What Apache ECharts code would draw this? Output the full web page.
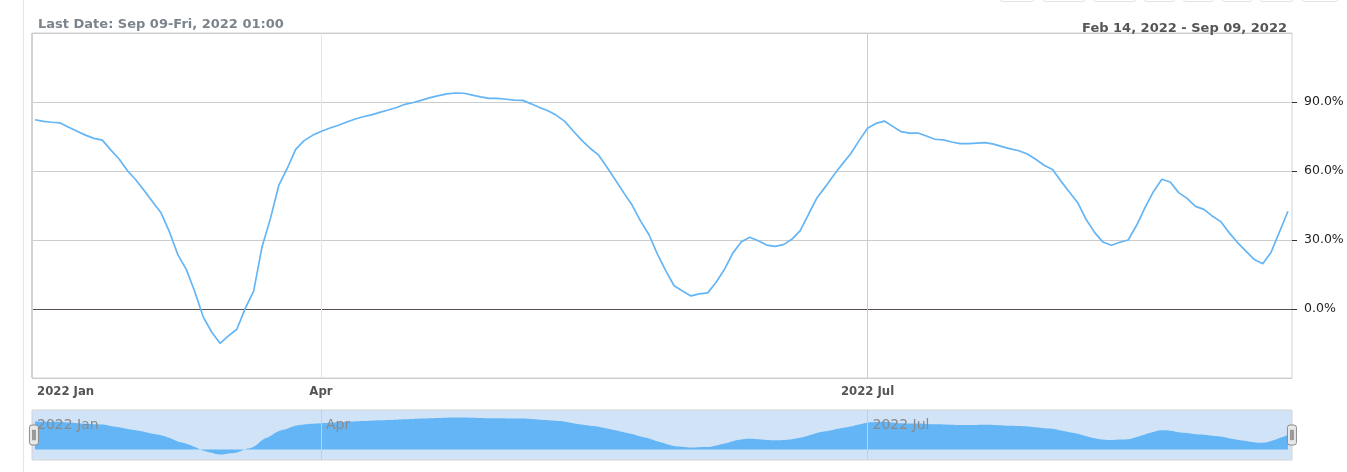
<!DOCTYPE html>
<html><head><meta charset="utf-8">
<script src="https://cdn.jsdelivr.net/npm/echarts@6/dist/echarts.min.js"></script>
<style>html,body{margin:0;padding:0;background:#fff}#c{width:1347px;height:472px}</style>
</head><body><div id="c"></div>
<script>
// Business days (Mon-Fri), Feb 14 2022 .. Sep 09 2022
const categories = [];
(function () {
  const d = new Date(Date.UTC(2022, 1, 14));
  const end = new Date(Date.UTC(2022, 8, 9));
  const M = ['Jan','Feb','Mar','Apr','May','Jun','Jul','Aug','Sep','Oct','Nov','Dec'];
  while (d <= end) {
    const w = d.getUTCDay();
    if (w !== 0 && w !== 6) categories.push(M[d.getUTCMonth()] + ' ' + String(d.getUTCDate()).padStart(2, '0') + ', 2022');
    d.setUTCDate(d.getUTCDate() + 1);
  }
})();

const values = [
  82.3, 81.6, 81.2, 80.9, 79.0, 77.3, 75.6, 74.2, 73.4, 69.2,
  65.2, 60.1, 56.1, 51.4, 46.5, 41.7, 33.4, 23.5, 17.1, 7.5,
  -3.4, -10.0, -14.9, -11.7, -8.8, 0.3, 7.8, 27.1, 39.4, 53.9,
  61.2, 69.4, 73.2, 75.5, 77.2, 78.6, 79.8, 81.2, 82.5, 83.6,
  84.4, 85.5, 86.5, 87.6, 89.0, 89.8, 90.8, 91.9, 92.8, 93.5,
  93.9, 93.8, 93.0, 92.2, 91.6, 91.6, 91.2, 90.8, 90.7, 89.2,
  87.6, 86.2, 84.2, 81.6, 77.4, 73.4, 69.9, 67.0, 61.7, 56.2,
  50.6, 45.2, 38.3, 32.4, 24.0, 16.7, 10.1, 7.8, 5.7, 6.6,
  7.0, 11.6, 17.3, 24.4, 29.2, 31.2, 29.7, 27.8, 27.2, 28.0,
  30.3, 34.1, 41.3, 48.4, 53.2, 58.3, 63.0, 67.5, 73.2, 78.6,
  80.7, 81.7, 79.4, 77.1, 76.5, 76.5, 75.2, 73.8, 73.5, 72.6,
  71.9, 71.9, 72.1, 72.3, 71.7, 70.6, 69.6, 68.8, 67.4, 65.1,
  62.5, 60.7, 55.6, 50.9, 46.2, 38.9, 33.3, 29.1, 27.7, 29.0,
  30.0, 36.4, 44.1, 51.0, 56.4, 55.2, 50.6, 48.1, 44.6, 43.3,
  40.4, 38.0, 33.2, 28.9, 25.2, 21.5, 19.7, 24.7, 33.6, 42.5
];

const xMin = -0.36, xMax = 149.48;
const tickIndex = [xMin, 34, 99];        // first label sits at the axis start
const tickLabels = ['2022 Jan', 'Apr', '2022 Jul'];
const splitIndex = [34, 99];
const yTicks = { min: -30, max: 120, interval: 30 };

const seriesData = values.map((v, i) => [i, v]);
const labelIdx = v => {
  let best = 0;
  for (let k = 0; k < tickIndex.length; k++) if (Math.abs(tickIndex[k] - v) < Math.abs(tickIndex[best] - v)) best = k;
  return best;
};

const FONT = 'DejaVu Sans';
const chart = echarts.init(document.getElementById('c'), null, { renderer: 'canvas' });

const handlePath = 'path://M2.5,0 h4 a2.5,2.5 0 0 1 2.5,2.5 v15 a2.5,2.5 0 0 1 -2.5,2.5 h-4 a2.5,2.5 0 0 1 -2.5,-2.5 v-15 a2.5,2.5 0 0 1 2.5,-2.5 Z M3.2,5 h0.6 v10 h-0.6 Z M5.2,5 h0.6 v10 h-0.6 Z';

const btns = [[1000, 34], [1043, 42], [1093, 43], [1144, 31], [1183, 31], [1222, 30], [1260, 33], [1302, 36]];

chart.setOption({
  backgroundColor: '#fff',
  animation: false,
  textStyle: { fontFamily: FONT },
  title: [
    { text: 'Last Date: Sep 09-Fri, 2022 01:00', left: 33, top: 13,
      textStyle: { fontSize: 13, fontWeight: 'bold', color: '#7b848d', fontFamily: FONT } },
    { text: 'Feb 14, 2022 - Sep 09, 2022', right: 55, top: 17,
      textStyle: { fontSize: 13, fontWeight: 'bold', color: '#555', fontFamily: FONT } }
  ],
  graphic: [
    { type: 'line', shape: { x1: 23.5, y1: 0, x2: 23.5, y2: 472 }, style: { stroke: '#e6e6e6', lineWidth: 1 }, silent: true },
    { type: 'line', shape: { x1: 32, y1: 33, x2: 32, y2: 378 }, style: { stroke: '#d2d2d2', lineWidth: 2 }, silent: true, z: 10 }
  ].concat(btns.map(b => ({
    type: 'rect', shape: { x: b[0], y: -12, width: b[1], height: 13.5, r: 3 },
    style: { fill: '#fff', stroke: '#e3e3e3', lineWidth: 1 }, silent: true
  }))),
  grid: [
    { left: 32, right: 55, top: 33, bottom: 94, show: true, borderColor: '#d2d2d2', borderWidth: 1, backgroundColor: '#fff' },
    { left: 32, right: 55, top: 410, height: 50, show: true, borderColor: '#d4d4d4', borderWidth: 1, backgroundColor: '#d0e3f7' }
  ],
  xAxis: [
    {
      type: 'value', gridIndex: 0, min: xMin, max: xMax,
      axisLine: { show: false, onZero: false },
      axisTick: { show: false, customValues: splitIndex },
      axisLabel: {
        customValues: tickIndex,
        formatter: v => { const k = labelIdx(v); return k === 0 ? '{f|' + tickLabels[k] + '}' : tickLabels[k]; },
        alignMinLabel: 'left',
        color: '#555', fontWeight: 'bold', fontSize: 11.7, margin: 8, fontFamily: FONT,
        rich: { f: { padding: [0, 0, 0, 5], color: '#555', fontWeight: 'bold', fontSize: 11.7, fontFamily: FONT } }
      },
      splitLine: { show: true, lineStyle: { color: ['#e6e6e6', '#cccccc'], width: 1 } }
    },
    {
      type: 'value', gridIndex: 1, min: xMin, max: xMax, position: 'top', z: 5,
      axisLine: { show: false, onZero: false },
      axisTick: { show: false, customValues: splitIndex },
      axisLabel: {
        inside: true, customValues: tickIndex, formatter: v => tickLabels[labelIdx(v)],
        align: 'left', padding: [0, 0, 0, 5], margin: 8,
        color: '#8a8a8a', fontSize: 14, fontFamily: FONT
      },
      splitLine: { show: true, lineStyle: { color: '#cdcdcd', width: 1 } }
    }
  ],
  yAxis: [
    {
      type: 'value', gridIndex: 0, position: 'right',
      min: yTicks.min, max: yTicks.max, interval: yTicks.interval,
      axisLine: { show: false, onZero: false },
      axisTick: { show: true, length: 5, lineStyle: { color: '#333' } },
      axisLabel: {
        showMinLabel: false, showMaxLabel: false, margin: 12,
        color: '#222', fontSize: 12.5, fontFamily: FONT,
        formatter: v => v.toFixed(1) + '%'
      },
      splitLine: { show: true, lineStyle: { color: ['#cccccc', '#5a5050', '#cccccc', '#cccccc', '#cccccc', '#cccccc'], width: 1 } }
    },
    { type: 'value', gridIndex: 1, min: -31, max: 116, show: false, axisLine: { onZero: false }, splitLine: { show: false } }
  ],
  dataZoom: [{
    type: 'slider', xAxisIndex: 1, filterMode: 'none',
    left: 32, right: 55, top: 410, height: 50, start: 0, end: 100,
    showDataShadow: false, showDetail: false, brushSelect: false, moveHandleSize: 0,
    backgroundColor: 'rgba(0,0,0,0)', fillerColor: 'rgba(0,0,0,0)', borderColor: 'rgba(0,0,0,0)',
    handleIcon: handlePath, handleSize: 20,
    handleStyle: { color: '#e8e8e8', borderColor: '#8c8c8c', borderWidth: 1 },
    emphasis: { handleStyle: { color: '#e8e8e8', borderColor: '#8c8c8c' } }
  }],
  series: [
    {
      type: 'line', xAxisIndex: 0, yAxisIndex: 0, data: seriesData,
      symbol: 'none', silent: true,
      lineStyle: { color: '#64b5f6', width: 1.7 }, itemStyle: { color: '#64b5f6' }
    },
    {
      type: 'line', xAxisIndex: 1, yAxisIndex: 1, data: seriesData,
      symbol: 'none', silent: true, smooth: true,
      lineStyle: { width: 0, color: '#64b5f6' },
      areaStyle: { color: '#64b5f6', opacity: 1 }
    }
  ]
});
</script></body></html>
